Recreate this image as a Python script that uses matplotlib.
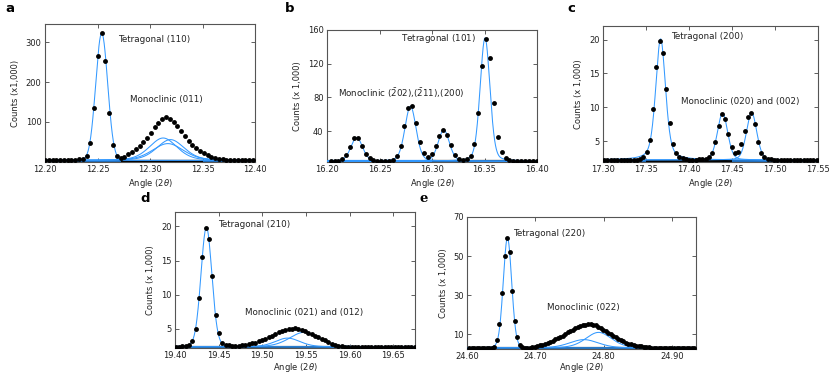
import numpy as np
import matplotlib
matplotlib.use("Agg")
import matplotlib.pyplot as plt

# ---------------- data ----------------
# observed counts (x1000) on a uniform angle grid: start, step, values
a_start, a_step = 12.2000, 0.0036
a_counts = [5, 5, 5, 5, 5, 5, 5, 5, 6, 7, 8, 16, 48, 136, 265, 322, 253, 123, 43, 16,
            10, 13, 19, 26, 32, 40, 49, 61, 73, 87, 98, 108, 113, 108, 99, 90, 77, 65, 53, 43,
            34, 27, 22, 17, 13, 11, 8, 7, 6, 5, 5, 5, 5, 5, 5, 5]

b_start, b_step = 16.2035, 0.0037
b_counts = [5, 5, 5, 6.7, 11.8, 21.5, 32, 32, 22.7, 13, 8, 6, 5, 5, 5, 5, 6, 10.6, 22.4, 45.9,
            67.8, 69.4, 50.2, 27.4, 14.5, 10, 13, 22.7, 34, 41, 36, 23.5, 12, 7, 5.5, 6.7, 11, 24.7,
            61.5, 116.8, 149.8, 126.7, 73.3, 32.6, 15, 8.6, 6, 5, 5, 5, 5, 5, 5, 5]

c_start, c_step = 17.3014, 0.0038
c_counts = [2.2, 2.2, 2.2, 2.2, 2.2, 2.2, 2.2, 2.2, 2.2, 2.2, 2.25, 2.3, 2.6, 3.4, 5.15, 9.66,
            16.0, 19.85, 18.04, 12.65, 7.6, 4.56, 3.28, 2.7, 2.45, 2.3, 2.2, 2.2, 2.2, 2.3, 2.3,
            2.4, 2.6, 3.19, 4.9, 7.2, 8.97, 8.3, 6.0, 4.07, 3.2, 3.4, 4.56, 6.47, 8.57, 9.16, 7.5,
            4.9, 3.2, 2.6, 2.4, 2.3, 2.2, 2.2, 2.2, 2.2, 2.2, 2.2, 2.2, 2.2, 2.2, 2.2, 2.2, 2.2,
            2.2, 2.2]

d_start, d_step = 19.4009, 0.0038
d_counts = [2.4, 2.4, 2.45, 2.5, 2.7, 3.25, 5.0, 9.47, 15.5, 19.77, 18.2, 12.8, 7.1, 4.4, 3.0,
            2.7, 2.6, 2.45, 2.5, 2.55, 2.6, 2.65, 2.75, 2.9, 3.0, 3.2, 3.35, 3.55, 3.8, 4.0, 4.3,
            4.5, 4.7, 4.85, 4.95, 5.05, 5.1, 5.0, 4.9, 4.7, 4.45, 4.25, 4.0, 3.75, 3.5, 3.3, 3.05,
            2.85, 2.7, 2.55, 2.45, 2.4, 2.4, 2.35, 2.4, 2.4, 2.35, 2.4, 2.4, 2.4, 2.35, 2.4, 2.4,
            2.4, 2.35, 2.4, 2.4, 2.4, 2.4, 2.35, 2.4, 2.4, 2.4]

e_start, e_step = 24.6031, 0.0037
e_counts = [3.0, 3.0, 3.0, 3.0, 3.0, 3.0, 3.0, 3.0, 3.0, 3.0, 3.6, 7.1, 15.1, 31.0, 50.3, 59.2,
            52.0, 32.4, 16.8, 8.8, 4.5, 3.4, 3.1, 3.1, 3.2, 3.4, 3.6, 3.9, 4.3, 4.8, 5.2, 5.6, 6.2,
            6.8, 7.4, 8.1, 8.7, 9.4, 10.2, 11.0, 11.7, 12.4, 13.1, 13.6, 14.1, 14.6, 14.9, 15.1,
            15.2, 15.0, 14.6, 14.0, 13.2, 12.4, 11.6, 10.8, 10.0, 9.2, 8.4, 7.7, 7.0, 6.4, 5.8,
            5.3, 4.9, 4.5, 4.2, 4.0, 3.8, 3.6, 3.4, 3.3, 3.2, 3.2, 3.1, 3.1, 3.1, 3.1, 3.1, 3.1,
            3.1, 3.1, 3.1, 3.1, 3.1, 3.1, 3.1, 3.1, 3.1, 3.1]

# fitted peak components: centre, height above background, FWHM, Lorentz fraction
a_bg = 4
a_centers = [12.2540, 12.3125, 12.3195, 12.3170]
a_heights = [318, 56, 52, 42]
a_fwhm = [0.0134, 0.031, 0.031, 0.035]
a_eta = [0.0, 0.3, 0.3, 0.3]

b_bg = 4.5
b_centers = [16.2283, 16.2795, 16.3112, 16.3505]
b_heights = [28, 65, 37, 146]
b_fwhm = [0.0130, 0.0125, 0.0125, 0.0110]
b_eta = [0.2, 0.2, 0.2, 0.2]

c_bg = 2.2
c_centers = [17.3670, 17.4390, 17.4728]
c_heights = [17.9, 6.9, 7.0]
c_fwhm = [0.0135, 0.0140, 0.0140]
c_eta = [0.4, 0.2, 0.2]

d_bg = 2.35
d_centers = [19.4360, 19.5290, 19.5480]
d_heights = [17.5, 1.3, 2.15]
d_fwhm = [0.0148, 0.034, 0.040]
d_eta = [0.1, 0.3, 0.3]

e_bg = 3.0
e_centers = [24.6592, 24.7710, 24.7925]
e_heights = [56.3, 4.3, 8.0]
e_fwhm = [0.0145, 0.050, 0.045]
e_eta = [0.1, 0.3, 0.3]

# axes settings
a_xticks = [12.20, 12.25, 12.30, 12.35, 12.40]
a_yticks = [100, 200, 300]
b_xticks = [16.20, 16.25, 16.30, 16.35, 16.40]
b_yticks = [40, 80, 120, 160]
c_xticks = [17.30, 17.35, 17.40, 17.45, 17.50, 17.55]
c_yticks = [5, 10, 15, 20]
d_xticks = [19.40, 19.45, 19.50, 19.55, 19.60, 19.65]
d_yticks = [5, 10, 15, 20]
e_xticks = [24.60, 24.70, 24.80, 24.90]
e_yticks = [10, 30, 50, 70]

# ---------------- drawing ----------------
W, H = 830, 374
fig = plt.figure(figsize=(W / 100, H / 100), dpi=100)

BLUE = '#3399ff'
TXT = '#222222'


def pv(x, c, h, f, eta):
    r = (x - c) / f
    return h * (eta / (1 + 4 * r ** 2) + (1 - eta) * np.exp(-4 * np.log(2) * r ** 2))


def panel(box, start, step, counts, bg, centers, heights, fwhm, eta,
          xlim, ylim, xticks, yticks, ylabel, letter, letter_pos, texts,
          base_segments, ylab_x, xlab_off, letter_family='DejaVu Sans'):
    l, t, r, b = box
    ax = fig.add_axes([l / W, 1 - b / H, (r - l) / W, (b - t) / H])
    x = start + step * np.arange(len(counts))
    xf = np.linspace(xlim[0], xlim[1], 800)
    # bottom baseline band
    yb = ylim[0] + (ylim[1] - ylim[0]) * 0.008
    for (x1, x2, col) in base_segments:
        ax.plot([x1, x2], [yb, yb], color=col, lw=1.6, solid_capstyle='butt', zorder=2)
    for c, h, f, e in zip(centers, heights, fwhm, eta):
        ax.plot(xf, bg + pv(xf, c, h, f, e), color=BLUE, lw=0.75, zorder=3)
    ax.plot(x, counts, 'o', color='black', ms=3.5, mew=0, zorder=4)
    ax.set_xlim(*xlim)
    ax.set_ylim(*ylim)
    ax.set_xticks(xticks)
    ax.set_xticklabels(['%.2f' % v for v in xticks])
    ax.set_yticks(yticks)
    ax.tick_params(direction='in', top=True, right=True, length=3, width=0.6,
                   labelsize=6, pad=2.5, colors='#444444', labelcolor=TXT)
    for s in ax.spines.values():
        s.set_color('#555555')
        s.set_linewidth(0.8)
    ax.set_ylabel(ylabel, fontsize=6, color=TXT)
    ax.yaxis.set_label_coords(ylab_x, 0.5)
    ax.set_xlabel(r'Angle (2$\theta$)', fontsize=6, color=TXT)
    ax.xaxis.set_label_coords(0.5, -xlab_off / (b - t))
    for (tx, ty, s) in texts:
        ax.text(tx, ty, s, fontsize=6.3, color=TXT, ha='left', va='center', zorder=5)
    fig.text(letter_pos[0] / W, 1 - letter_pos[1] / H, letter, fontsize=9.5,
             fontweight='bold', family=letter_family, ha='left', va='center')
    return ax


panel((45, 24, 255, 162), a_start, a_step, a_counts, a_bg, a_centers, a_heights, a_fwhm, a_eta,
      (12.2, 12.4), (0, 345), a_xticks, a_yticks, 'Counts (x1,000)', 'a', (5, 8),
      [(12.270, 307, 'Tetragonal (110)'), (12.281, 157, 'Monoclinic (011)')],
      [(12.2, 12.4, '#1f6fc0'), (12.272, 12.35, 'black')], -0.119, 15.0)

panel((327, 30, 537, 162), b_start, b_step, b_counts, b_bg, b_centers, b_heights, b_fwhm, b_eta,
      (16.2, 16.4), (3.5, 160), b_xticks, b_yticks, 'Counts (x 1,000)', 'b', (285, 8),
      [(16.2705, 150, r'Tetragonal $(101)$'),
       (16.2105, 85, r'Monoclinic $(\bar{2}02)$,$(\bar{2}11)$,$(200)$')],
      [(16.2, 16.30, '#1f8fff'), (16.30, 16.4, 'black')], -0.12, 15.0)

panel((603, 26, 818, 162), c_start, c_step, c_counts, c_bg, c_centers, c_heights, c_fwhm, c_eta,
      (17.3, 17.55), (1.9, 22), c_xticks, c_yticks, 'Counts (x 1,000)', 'c', (567, 8),
      [(17.3795, 20.4, 'Tetragonal (200)'), (17.3907, 10.9, 'Monoclinic (020) and (002)')],
      [(17.3, 17.55, '#1f6fc0'), (17.35, 17.45, 'black')], -0.091, 15.0)

panel((175, 212, 415, 348), d_start, d_step, d_counts, d_bg, d_centers, d_heights, d_fwhm, d_eta,
      (19.4, 19.675), (2.2, 22.1), d_xticks, d_yticks, 'Counts (x 1,000)', 'd', (140, 198),
      [(19.4495, 20.3, 'Tetragonal (210)'), (19.480, 7.43, 'Monoclinic (021) and (012)')],
      [(19.4, 19.675, '#1a4f80')], -0.083, 13.0)

panel((467, 217, 696, 349), e_start, e_step, e_counts, e_bg, e_centers, e_heights, e_fwhm, e_eta,
      (24.6, 24.935), (2.5, 70), e_xticks, e_yticks, 'Counts (x 1,000)', 'e', (420, 198),
      [(24.6678, 61.8, 'Tetragonal (220)'), (24.7167, 23.6, 'Monoclinic (022)')],
      [(24.6, 24.935, '#1a4f80')], -0.082, 12.5, letter_family='DejaVu Serif')

fig.savefig('out.png', dpi=100)
